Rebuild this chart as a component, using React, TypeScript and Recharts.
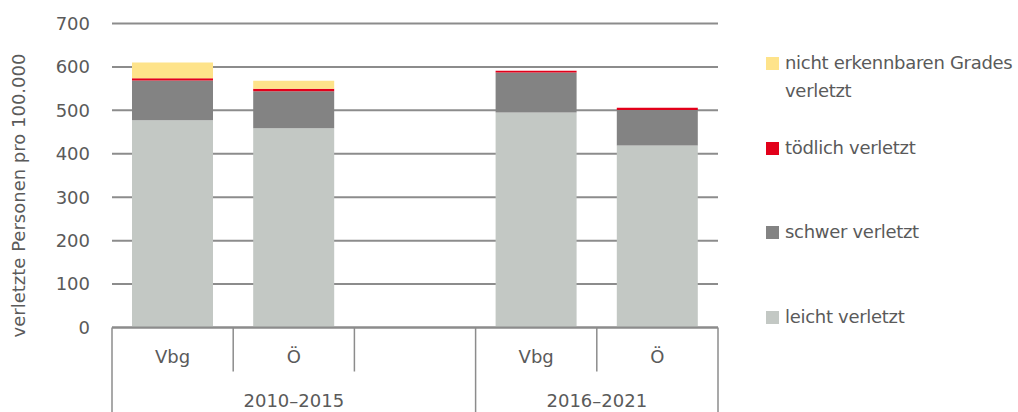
import React from "react";
import { BarChart, Bar, XAxis, YAxis, CartesianGrid } from "recharts";

const categories = ["Vbg", "Ö", "", "Vbg", "Ö"];
const leicht = [477, 459, null, 495, 419];
const schwer = [92, 85, null, 92, 82];
const toedlich = [5, 6, null, 4, 5];
const nichtErkennbar = [36, 18, null, 0, 0];
const groupLabels = ["2010–2015", "2016–2021"];
const groupSizes = [3, 2];
const yTicks = [0, 100, 200, 300, 400, 500, 600, 700];
const yLabel = "verletzte Personen pro 100.000";

const seriesKeys = ["leicht", "schwer", "toedlich", "nicht"];
const seriesNames = ["leicht verletzt", "schwer verletzt", "tödlich verletzt", "nicht erkennbaren Grades verletzt"];
const seriesColors = ["#c3c8c4", "#838383", "#e2001a", "#fee38a"];

const data = categories.map((c, i) => ({
  id: "c" + i,
  label: c,
  leicht: leicht[i],
  schwer: schwer[i],
  toedlich: toedlich[i],
  nicht: nichtErkennbar[i],
}));

const W = 1018;
const H = 412;
const MARGIN = { top: 23.5, right: 300, bottom: 0, left: 0 };
const Y_W = 112;
const X_H = 84.5;
const TEXT = "#5a5a5a";
const LINE = "#8c8c8c";
const FONT = "DejaVu Sans";
const BAND = (W - MARGIN.right - Y_W) / categories.length;

const groupStarts: number[] = [];
{
  let s = 0;
  for (const g of groupSizes) {
    groupStarts.push(s);
    s += g;
  }
}

const XTick = (props: any) => {
  const { x, y, payload, index } = props;
  const half = payload && typeof payload.offset === "number" && payload.offset > 0 ? payload.offset : BAND / 2;
  const left = x - half;
  const gi = groupStarts.indexOf(index);
  const els: any[] = [];
  els.push(
    <line key="l" x1={left} x2={left} y1={y} y2={gi >= 0 ? y + X_H : y + 44} stroke={LINE} strokeWidth={1.5} />
  );
  if (index === categories.length - 1) {
    els.push(<line key="r" x1={x + half} x2={x + half} y1={y} y2={y + X_H} stroke={LINE} strokeWidth={1.5} />);
  }
  els.push(
    <text key="t" x={x} y={y + 35} textAnchor="middle" fill={TEXT} fontSize={18} fontFamily={FONT}>
      {categories[index]}
    </text>
  );
  if (gi >= 0) {
    const w = groupSizes[gi] * 2 * half;
    els.push(
      <text key="g" x={left + w / 2} y={y + 79} textAnchor="middle" fill={TEXT} fontSize={18} fontFamily={FONT}>
        {groupLabels[gi]}
      </text>
    );
  }
  return <g>{els}</g>;
};

const YLabel = (props: any) => {
  const vb = props.viewBox || { x: 0, y: 0, height: 0 };
  const cx = 18;
  const cy = vb.y + vb.height / 2 + 20;
  return (
    <text
      x={cx}
      y={cy}
      transform={`rotate(-90, ${cx}, ${cy})`}
      textAnchor="middle"
      dominantBaseline="central"
      fill={TEXT}
      fontSize={18}
      fontFamily={FONT}
    >
      {yLabel}
    </text>
  );
};

const legendTops = [49, 134, 218, 303];

export default function App() {
  const order = [3, 2, 1, 0];
  return (
    <div style={{ position: "absolute", left: 0, top: 0, width: W, height: H, overflow: "hidden", background: "#fff", fontFamily: FONT }}>
      <BarChart width={W} height={H} data={data} margin={MARGIN} barCategoryGap="16.5%">
        <CartesianGrid vertical={false} stroke={LINE} strokeWidth={2} />
        <XAxis
          dataKey="id"
          interval={0}
          tickLine={false}
          tickSize={0}
          tickMargin={0}
          height={X_H}
          axisLine={{ stroke: LINE, strokeWidth: 2 }}
          tick={<XTick />}
        />
        <YAxis
          domain={[0, 700]}
          ticks={yTicks}
          width={Y_W}
          axisLine={false}
          tickLine={false}
          tickSize={0}
          tickMargin={22}
          tick={{ fill: TEXT, fontSize: 18, fontFamily: FONT }}
          label={<YLabel />}
        />
        {seriesKeys.map((k, i) => (
          <Bar key={k} dataKey={k} name={seriesNames[i]} stackId="a" fill={seriesColors[i]} isAnimationActive={false} />
        ))}
      </BarChart>
      {order.map((si, j) => (
        <div
          key={si}
          style={{
            position: "absolute",
            left: 766,
            top: legendTops[j],
            width: 252,
            display: "flex",
            alignItems: "flex-start",
          }}
        >
          <div style={{ width: 13, height: 13, marginTop: 8, background: seriesColors[si], flex: "none" }} />
          <div
            style={{
              marginLeft: 6,
              width: 233,
              fontSize: 18,
              lineHeight: "28px",
              letterSpacing: "-0.3px",
              color: TEXT,
              fontFamily: FONT,
            }}
          >
            {seriesNames[si]}
          </div>
        </div>
      ))}
    </div>
  );
}
